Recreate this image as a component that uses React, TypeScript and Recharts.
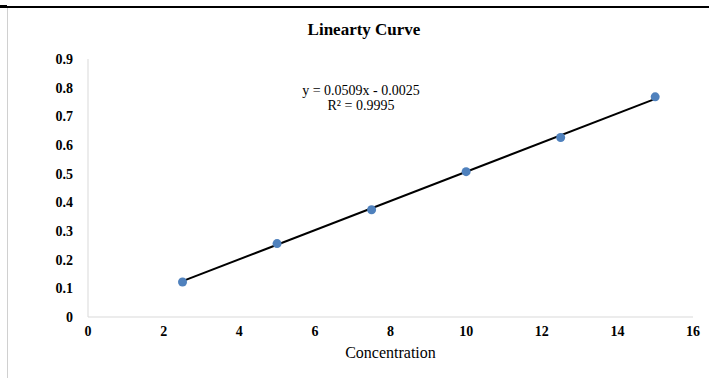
import React from "react";
import { ScatterChart, Scatter, XAxis, YAxis, Label } from "recharts";

const concentration = [2.5, 5, 7.5, 10, 12.5, 15];
const absorbance = [0.122, 0.256, 0.374, 0.507, 0.626, 0.768];
const trendX = [2.5, 15];
const trendY = [0.125, 0.761];
const xTicks = [0, 2, 4, 6, 8, 10, 12, 14, 16];
const yTicks = [0, 0.1, 0.2, 0.3, 0.4, 0.5, 0.6, 0.7, 0.8, 0.9];
const title = "Linearty Curve";
const xLabel = "Concentration";
const equation = "y = 0.0509x - 0.0025";
const rSquared = "R² = 0.9995";

const points = concentration.map((x, i) => ({ x, y: absorbance[i] }));
const trend = trendX.map((x, i) => ({ x, y: trendY[i] }));

const FONT = "'Liberation Serif', 'Times New Roman', serif";
const tickStyle = { fontFamily: FONT, fontSize: 14, fontWeight: 700, fill: "#000" };

export default function App() {
  return (
    <div style={{ position: "absolute", left: 0, top: 0, width: 709, height: 378, background: "#fff", fontFamily: FONT }}>
      <div style={{ position: "absolute", left: 0, top: 6, width: 709, height: 2, background: "#000" }} />
      <div style={{ position: "absolute", left: 0, top: 5, width: 7, height: 3, background: "#000" }} />
      <div style={{ position: "absolute", left: 7, top: 8, width: 1, height: 370, background: "#d0d0d0" }} />
      <div style={{ position: "absolute", left: 0, top: 20, width: 728, textAlign: "center", fontSize: 17, lineHeight: "20px", fontWeight: 700, color: "#000" }}>{title}</div>
      <div style={{ position: "absolute", left: 261, top: 83, width: 200, textAlign: "center", fontSize: 14, lineHeight: "15px", color: "#000" }}>
        <div>{equation}</div>
        <div>{rSquared}</div>
      </div>
      <div style={{ position: "absolute", left: 0, top: 0 }}>
        <ScatterChart width={709} height={378} margin={{ top: 59, right: 16, bottom: 0, left: 0 }}>
          <XAxis
            type="number"
            dataKey="x"
            domain={[0, 16]}
            ticks={xTicks}
            allowDataOverflow
            tickLine={false}
            tickSize={0}
            tickMargin={9}
            axisLine={{ stroke: "#d9d9d9", strokeWidth: 1 }}
            tick={tickStyle}
            height={61}
          >
            <Label value={xLabel} position="insideBottom" offset={20} style={{ fontFamily: FONT, fontSize: 16, fill: "#000" }} />
          </XAxis>
          <YAxis
            type="number"
            dataKey="y"
            domain={[0, 0.9]}
            ticks={yTicks}
            allowDataOverflow
            tickLine={false}
            tickSize={0}
            tickMargin={15}
            axisLine={{ stroke: "#d9d9d9", strokeWidth: 1 }}
            tick={tickStyle}
            tickFormatter={(v: number) => String(v)}
            width={88}
          />
          <Scatter
            data={trend}
            line={{ stroke: "#000", strokeWidth: 2 }}
            shape={() => <g />}
            isAnimationActive={false}
          />
          <Scatter
            data={points}
            fill="#4f81bd"
            shape={(p: any) => <circle cx={p.cx} cy={p.cy} r={4.5} fill="#4f81bd" />}
            isAnimationActive={false}
          />
        </ScatterChart>
      </div>
    </div>
  );
}
